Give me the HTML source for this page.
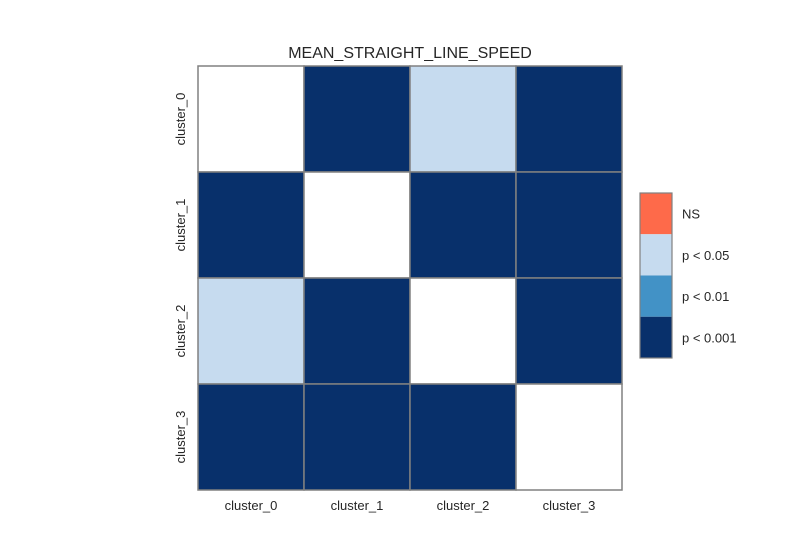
<!DOCTYPE html>
<html><head><meta charset="utf-8"><style>
body{margin:0;background:#fff;}
svg text{font-family:"Liberation Sans",sans-serif;fill:#262626;}
</style></head><body>
<svg id="chart" width="800" height="550" xmlns="http://www.w3.org/2000/svg">
<text x="410" y="58" text-anchor="middle" font-size="16">MEAN_STRAIGHT_LINE_SPEED</text>
<g id="cells"></g><g id="xlabels"></g><g id="ylabels"></g><g id="legend"></g>
</svg>
<script>
const categories = ["cluster_0","cluster_1","cluster_2","cluster_3"];
// level index: -1 = diagonal (blank), 0 = NS, 1 = p<0.05, 2 = p<0.01, 3 = p<0.001
const row0 = [-1,3,1,3];
const row1 = [3,-1,3,3];
const row2 = [1,3,-1,3];
const row3 = [3,3,3,-1];
const levelLabels = ["NS","p < 0.05","p < 0.01","p < 0.001"];
const levelColors = ["#fe6a4a","#c6dbef","#4292c6","#08306b"];
const rows=[row0,row1,row2,row3];
const NS="http://www.w3.org/2000/svg";
const x0=198,y0=66,W=424,H=424;
const cw=W/categories.length, ch=H/categories.length;
const xPos=i=>x0+i*cw, yPos=i=>y0+i*ch;
const cells=document.getElementById('cells');
rows.forEach((r,i)=>r.forEach((v,j)=>{
  const rc=document.createElementNS(NS,'rect');
  rc.setAttribute('x',xPos(j));rc.setAttribute('y',yPos(i));
  rc.setAttribute('width',cw);rc.setAttribute('height',ch);
  rc.setAttribute('fill',v<0?'#ffffff':levelColors[v]);
  rc.setAttribute('stroke','#808080');rc.setAttribute('stroke-width','1.5');
  
  
  cells.appendChild(rc);
}));
const xl=document.getElementById('xlabels');
categories.forEach((c,i)=>{
  const t=document.createElementNS(NS,'text');
  t.setAttribute('x',xPos(i)+cw/2);t.setAttribute('y',510);
  t.setAttribute('text-anchor','middle');t.setAttribute('font-size','13');
  t.textContent=c;
  
  
  xl.appendChild(t);
});
const yl=document.getElementById('ylabels');
categories.forEach((c,i)=>{
  const t=document.createElementNS(NS,'text');
  const cx=185, cy=yPos(i)+ch/2;
  t.setAttribute('x',cx);t.setAttribute('y',cy);
  t.setAttribute('text-anchor','middle');t.setAttribute('font-size','13');
  t.setAttribute('transform','rotate(-90 '+cx+' '+cy+')');
  t.textContent=c;
  
  
  yl.appendChild(t);
});
const lg=document.getElementById('legend');
const lx=640,ly=193,lw=32,lh=41.25;
levelLabels.forEach((l,i)=>{
  const r=document.createElementNS(NS,'rect');
  r.setAttribute('x',lx);r.setAttribute('y',ly+i*lh);r.setAttribute('width',lw);r.setAttribute('height',lh);
  r.setAttribute('fill',levelColors[i]);
  
  
  lg.appendChild(r);
  const t=document.createElementNS(NS,'text');
  t.setAttribute('x',682);t.setAttribute('y',ly+i*lh+lh/2+5);t.setAttribute('font-size','13');
  t.textContent=l;
  
  
  lg.appendChild(t);
});
const b=document.createElementNS(NS,'rect');
b.setAttribute('x',lx);b.setAttribute('y',ly);b.setAttribute('width',lw);b.setAttribute('height',lh*4);
b.setAttribute('fill','none');b.setAttribute('stroke','#808080');b.setAttribute('stroke-width','1.2');


lg.appendChild(b);
</script>
</body></html>
